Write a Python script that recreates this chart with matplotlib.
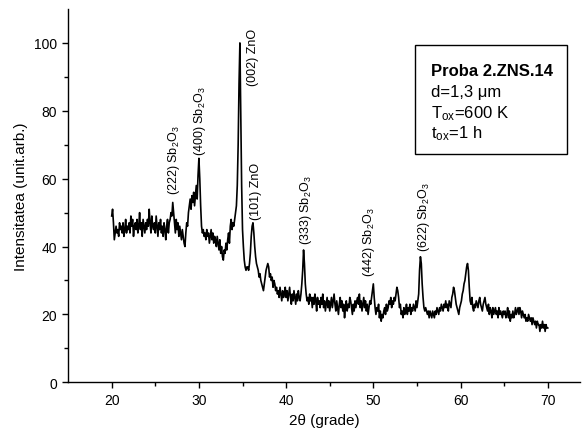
import numpy as np
import matplotlib
matplotlib.use("Agg")
import matplotlib.pyplot as plt
from matplotlib.patches import Rectangle

plt.rcParams['font.family'] = ['Liberation Sans', 'DejaVu Sans']
plt.rcParams['mathtext.fontset'] = 'custom'
plt.rcParams['mathtext.rm'] = 'Liberation Sans'
plt.rcParams['mathtext.it'] = 'Liberation Sans:italic'

# XRD pattern, 2theta from 20 to 70 in steps of 0.1 (one row per degree)
two_theta_start = 20.0
two_theta_step = 0.1
intensity = [
    49, 51, 47, 42, 44, 46, 44, 45, 43, 47,   # 20
    45, 46, 44, 47, 43, 45, 48, 44, 46, 45,   # 21
    47, 44, 49, 46, 48, 43, 46, 47, 45, 48,   # 22
    44, 46, 50, 45, 47, 43, 48, 46, 44, 47,   # 23
    45, 48, 46, 51, 47, 44, 49, 46, 45, 47,   # 24
    44, 49, 46, 43, 47, 45, 48, 44, 46, 43,   # 25
    47, 45, 42, 46, 48, 44, 47, 48, 50, 49,   # 26
    53, 50, 47, 44, 48, 45, 47, 43, 46, 44,   # 27
    42, 45, 43, 41, 40, 44, 47, 46, 50, 52,   # 28
    54, 51, 55, 53, 56, 52, 55, 58, 54, 61,   # 29
    66, 60, 52, 46, 44, 45, 43, 44, 42, 45,   # 30
    43, 44, 41, 43, 45, 42, 44, 41, 43, 42,   # 31
    40, 43, 41, 39, 42, 38, 40, 37, 36, 39,   # 32
    38, 41, 39, 42, 44, 41, 46, 48, 45, 47,   # 33
    46, 48, 50, 52, 58, 70, 88, 100, 80, 58,  # 34
    45, 40, 36, 34, 33, 34, 34, 33, 35, 38,   # 35
    43, 46, 47, 44, 40, 37, 35, 34, 33, 31,   # 36
    32, 30, 29, 28, 27, 29, 31, 33, 34, 35,   # 37
    34, 31, 32, 30, 31, 28, 30, 29, 27, 28,   # 38
    26, 27, 25, 28, 26, 24, 27, 25, 26, 28,   # 39
    25, 27, 24, 26, 28, 25, 23, 26, 24, 27,   # 40
    25, 23, 26, 24, 27, 25, 24, 26, 29, 33,   # 41
    39, 35, 29, 26, 24, 25, 23, 26, 24, 25,   # 42
    22, 25, 23, 26, 24, 21, 25, 23, 24, 22,   # 43
    25, 23, 26, 22, 24, 21, 23, 25, 22, 24,   # 44
    21, 23, 25, 22, 24, 26, 23, 21, 24, 22,   # 45
    20, 23, 25, 22, 24, 21, 23, 19, 22, 24,   # 46
    21, 23, 22, 25, 24, 22, 20, 23, 21, 24,   # 47
    22, 24, 25, 23, 26, 22, 24, 21, 23, 25,   # 48
    22, 24, 21, 23, 20, 22, 24, 23, 25, 27,   # 49
    29, 25, 22, 20, 22, 21, 23, 19, 21, 18,   # 50
    20, 19, 21, 22, 20, 23, 21, 22, 24, 23,   # 51
    25, 22, 24, 23, 25, 24, 26, 28, 27, 25,   # 52
    22, 23, 20, 21, 19, 22, 20, 21, 23, 20,   # 53
    22, 21, 23, 20, 22, 21, 23, 22, 21, 24,   # 54
    22, 24, 26, 33, 37, 35, 29, 25, 22, 21,   # 55
    22, 21, 20, 21, 19, 21, 20, 19, 21, 20,   # 56
    19, 21, 20, 22, 21, 20, 22, 21, 23, 22,   # 57
    21, 23, 22, 24, 22, 23, 21, 24, 23, 22,   # 58
    25, 26, 28, 27, 25, 23, 22, 21, 20, 22,   # 59
    23, 24, 26, 27, 29, 30, 32, 34, 35, 33,   # 60
    28, 24, 23, 25, 22, 21, 23, 22, 24, 23,   # 61
    22, 24, 25, 23, 22, 21, 23, 24, 25, 23,   # 62
    22, 21, 23, 20, 22, 21, 19, 22, 20, 21,   # 63
    22, 20, 21, 19, 22, 20, 21, 20, 19, 21,   # 64
    20, 21, 19, 20, 22, 19, 21, 18, 20, 19,   # 65
    21, 19, 20, 22, 20, 21, 22, 20, 22, 21,   # 66
    19, 21, 20, 19, 20, 18, 19, 18, 20, 19,   # 67
    18, 19, 17, 19, 18, 17, 18, 16, 18, 17,   # 68
    17, 15, 17, 16, 18, 16, 17, 15, 17, 16,   # 69
    16,                                       # 70
]
two_theta = two_theta_start + two_theta_step * np.arange(len(intensity))

# peak labels: text, x, y (bottom of the rotated text)
peak_labels = ["(222) Sb$_2$O$_3$", "(400) Sb$_2$O$_3$", "(002) ZnO", "(101) ZnO",
               "(333) Sb$_2$O$_3$", "(442) Sb$_2$O$_3$", "(622) Sb$_2$O$_3$"]
peak_x = [27.2, 30.1, 36.2, 36.55, 42.3, 49.5, 55.8]
peak_y = [55.5, 67.0, 87.6, 48.0, 40.7, 31.3, 38.6]

info_lines = ["Proba 2.ZNS.14", "d=1,3 \u03bcm", "T$_{\\mathrm{ox}}$=600 K", "t$_{\\mathrm{ox}}$=1 h"]

fig = plt.figure(figsize=(5.86, 4.39), dpi=100)
ax = fig.add_axes([0.1162, 0.1269, 0.8736, 0.8503])

ax.plot(two_theta, intensity, color='black', lw=1.2)

for txt, x, y in zip(peak_labels, peak_x, peak_y):
    ax.text(x, y, txt, rotation=90, ha='center', va='bottom', fontsize=9)

ax.set_xlim(15, 73.7)
ax.set_ylim(0, 110)
ax.set_xticks([20, 30, 40, 50, 60, 70])
ax.set_xticks([25, 35, 45, 55, 65], minor=True)
ax.set_yticks([0, 20, 40, 60, 80, 100])
ax.set_yticks([10, 30, 50, 70, 90], minor=True)
ax.spines['top'].set_visible(False)
ax.spines['right'].set_visible(False)
for s in ['left', 'bottom']:
    ax.spines[s].set_linewidth(1.0)
ax.tick_params(which='major', direction='out', length=4, width=1.0, labelsize=10, pad=4)
ax.tick_params(which='minor', direction='out', length=3, width=1.0)

ax.set_xlabel("2\u03b8 (grade)", fontsize=11)
ax.set_ylabel("Intensitatea (unit.arb.)", fontsize=11)

# info box
W, H = 586.0, 439.0
fig.patches.append(Rectangle((415 / W, 1 - 155 / H), (567 - 415) / W, (155 - 46) / H,
                             transform=fig.transFigure, fill=False, lw=1.0, ec='black'))
line_py = [76, 97, 118, 138]
for i, (txt, py) in enumerate(zip(info_lines, line_py)):
    fig.text(431 / W, 1 - py / H, txt, fontsize=12, va='baseline', ha='left',
             fontweight='bold' if i == 0 else 'normal')

fig.savefig("out.png", dpi=100)
